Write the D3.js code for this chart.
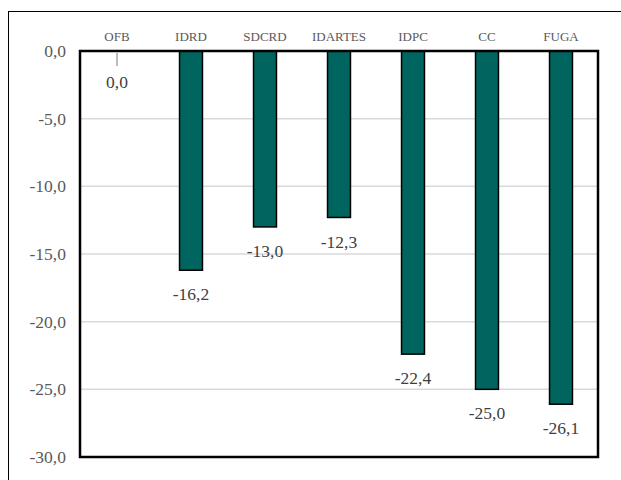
<!DOCTYPE html>
<html><head><meta charset="utf-8">
<script src="https://cdn.jsdelivr.net/npm/d3@7"></script>
<style>body{margin:0;background:#fff}svg{display:block}svg text{font-family:'Liberation Serif','Times New Roman',serif}</style>
</head><body>
<script>
const categories = ["OFB","IDRD","SDCRD","IDARTES","IDPC","CC","FUGA"];
const values = [0.0,-16.2,-13.0,-12.3,-22.4,-25.0,-26.1];
const yTicks = [0,-5,-10,-15,-20,-25,-30];

const W=621,H=480;
const svg=d3.select("body").append("svg").attr("width",W).attr("height",H);
svg.append("rect").attr("x",8.5).attr("y",11.5).attr("width",W+10).attr("height",H+10)
  .attr("fill","#fff").attr("stroke","#000").attr("stroke-width",1);

const L=80,R=598,T=51,B=457;
const x=d3.scaleBand().domain(categories).range([L,R]).paddingInner(0.69).paddingOuter(0.345);
const y=d3.scaleLinear().domain([-30,0]).range([B,T]);
const fmt=v=>d3.format(".1f")(v).replace(".",",").replace("−","-");

svg.append("g").selectAll("line").data(yTicks.filter(d=>d!==0&&d!==-30)).join("line")
  .attr("x1",L).attr("x2",R).attr("y1",d=>y(d)).attr("y2",d=>y(d))
  .attr("stroke","#d9d9d9").attr("stroke-width",1.5);

svg.append("g").selectAll("text").data(yTicks).join("text")
  .attr("x",66).attr("y",d=>y(d)).attr("dy","0.35em").attr("text-anchor","end")
  .attr("font-size",17.5)
  .attr("fill","#595959").text(fmt);

svg.append("g").selectAll("text").data(categories).join("text")
  .attr("x",d=>x(d)+x.bandwidth()/2).attr("y",36).attr("dy","0.35em").attr("text-anchor","middle")
  .attr("font-size",13)
  .attr("fill","#595959").text(d=>d);

svg.append("g").selectAll("rect").data(values).join("rect")
  .attr("x",(d,i)=>x(categories[i])).attr("width",x.bandwidth())
  .attr("y",y(0)).attr("height",d=>y(d)-y(0))
  .attr("fill","#00645f").attr("stroke","#000").attr("stroke-width",1.5)
  .attr("display",d=>d===0?"none":null);

values.forEach((d,i)=>{
  if(d===0){
    svg.append("line").attr("x1",x(categories[i])+x.bandwidth()/2).attr("x2",x(categories[i])+x.bandwidth()/2)
      .attr("y1",y(0)+2).attr("y2",y(0)+15).attr("stroke","#a6a6a6").attr("stroke-width",1.5);
  }
});

svg.append("g").selectAll("text").data(values).join("text")
  .attr("x",(d,i)=>x(categories[i])+x.bandwidth()/2)
  .attr("y",d=>d===0?y(0)+31:y(d)+24).attr("dy","0.35em").attr("text-anchor","middle")
  .attr("font-size",17.5)
  .attr("fill","#404040").text(fmt);

svg.append("rect").attr("x",L).attr("y",T).attr("width",R-L).attr("height",B-T)
  .attr("fill","none").attr("stroke","#000").attr("stroke-width",2.5);
</script>
</body></html>
